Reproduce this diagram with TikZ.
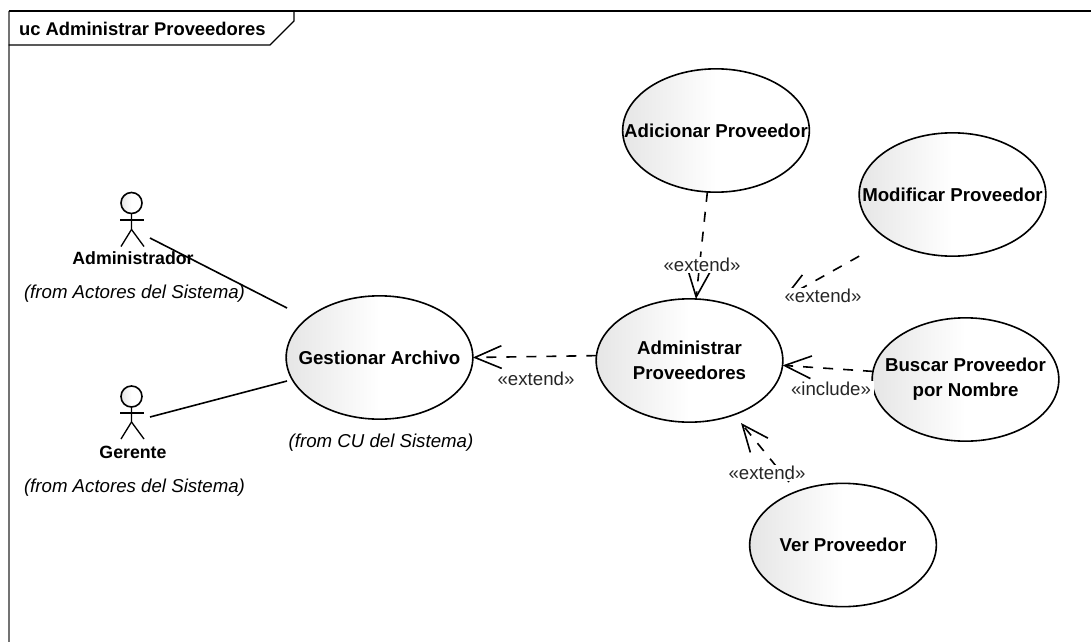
\documentclass[tikz,border=0pt]{standalone}
\usepackage{fontspec}
\setmainfont{Liberation Sans}
\usetikzlibrary{arrows.meta, shapes.geometric}

\begin{document}
\begin{tikzpicture}[x=0.75pt,y=-0.75pt,line width=1.2pt]
  \tikzstyle{usecase}=[ellipse,draw,inner sep=-25pt,outer sep=0pt,align=center,minimum width=140pt,minimum height=92.5pt,
    font=\fontsize{14}{18.5}\selectfont\bfseries,left color=black!10,right color=white,middle color=white]
  \tikzstyle{actorhead}=[circle,draw,inner sep=0pt,outer sep=0pt,minimum size=15.75pt,left color=black!10,right color=white,middle color=white]
  \tikzstyle{actorname}=[inner sep=1pt,font=\fontsize{13.3}{18}\selectfont\bfseries]
  \tikzstyle{fromtext}=[inner sep=1pt,font=\fontsize{14}{18}\selectfont\itshape]
  \tikzstyle{stereo}=[fill=white,inner sep=1pt,font=\fontsize{14}{18}\selectfont,text=black!85]
  \tikzstyle{dep}=[dashed,dash pattern=on 7.5pt off 7.5pt,-{Straight Barb[length=20pt,width=17pt]}]
  \useasboundingbox (0,0) rectangle (1091,642);

  % frame
  \coordinate (frame_tl) at (8.5,11);
  \coordinate (frame_tr) at (1091,11);
  \coordinate (frame_bl) at (8.5,642);
  \coordinate (tab_a) at (294,11);
  \coordinate (tab_b) at (294,21);
  \coordinate (tab_c) at (270,45);
  \coordinate (tab_d) at (8.5,45);
  \draw[black!55,line width=1.5pt] (frame_tl) -- (frame_bl);
  \draw[line width=0.9pt] (frame_tl) -- (frame_tr);
  \draw[line width=0.9pt] (tab_a) -- (tab_b) -- (tab_c) -- (tab_d);
  \node[actorname,anchor=west,font=\fontsize{13.8}{18}\selectfont\bfseries](title) at (17,29){uc Administrar Proveedores};

  % use cases
  \node[usecase](adicionar) at (716,130.5){Adicionar Proveedor};
  \node[usecase](modificar) at (952.5,194.5){Modificar Proveedor};
  \node[usecase](administrar) at (689.5,360.5){Administrar\\Proveedores};
  \node[usecase](buscar) at (965.5,379.5){Buscar Proveedor\\por Nombre};
  \node[usecase](ver) at (843,545){Ver Proveedor};
  \node[usecase](gestionar) at (379.5,357.5){Gestionar Archivo};

  % actors
  \node[actorhead](admin_head) at (131.5,203){};
  \draw[line width=1pt] (admin_head.south) -- ++(0,16) coordinate (admin_hip) -- ++(-10.5,17);
  \draw[line width=1pt] (admin_hip) -- ++(12.5,17);
  \draw[line width=1pt] (120,220) -- (144,220);
  \node[actorhead](ger_head) at (131.5,396.5){};
  \draw[line width=1pt] (ger_head.south) -- ++(0,15) coordinate (ger_hip) -- ++(-10.5,17);
  \draw[line width=1pt] (ger_hip) -- ++(12.5,17);
  \draw[line width=1pt] (120,413) -- (144,413);

  \coordinate (admin_end) at (150,238);
  \coordinate (ger_end) at (150,417);
  \coordinate (gest_a) at (287,308);
  \coordinate (gest_b) at (287,381);
  \coordinate (admin_bottom) at (741,423);
  \coordinate (ver_top) at (789,482);

  \draw (admin_end) -- (gest_a);
  \draw (ger_end) -- (gest_b);

  % dependencies
  \draw[dep] (adicionar.262) -- (administrar.84);
  \draw[dep] (modificar.west |- modificar.south) -- (administrar.east |- administrar.north);
  \draw[dep] (buscar.175) -- (administrar.-3);
  \draw[dep] (ver_top) -- (admin_bottom);
  \draw[dep] (administrar.177) -- (gestionar.east);

  % labels
  \node[actorname](admin_name) at (133,258){Administrador};
  \node[fromtext](admin_from) at (134.5,294){(from Actores del Sistema)};
  \node[actorname](ger_name) at (133,452){Gerente};
  \node[fromtext](ger_from) at (134.5,488){(from Actores del Sistema)};
  \node[fromtext](gest_from) at (381,443){(from CU del Sistema)};
  \node[stereo](ext_adicionar) at (702,265){«extend»};
  \node[stereo](ext_modificar) at (823,296){«extend»};
  \node[stereo,inner xsep=2pt](inc_buscar) at (831,389){«include»};
  \node[stereo](ext_gestionar) at (536,379){«extend»};
  \node[stereo](ext_ver) at (767,473){«extend»};
\end{tikzpicture}
\end{document}
